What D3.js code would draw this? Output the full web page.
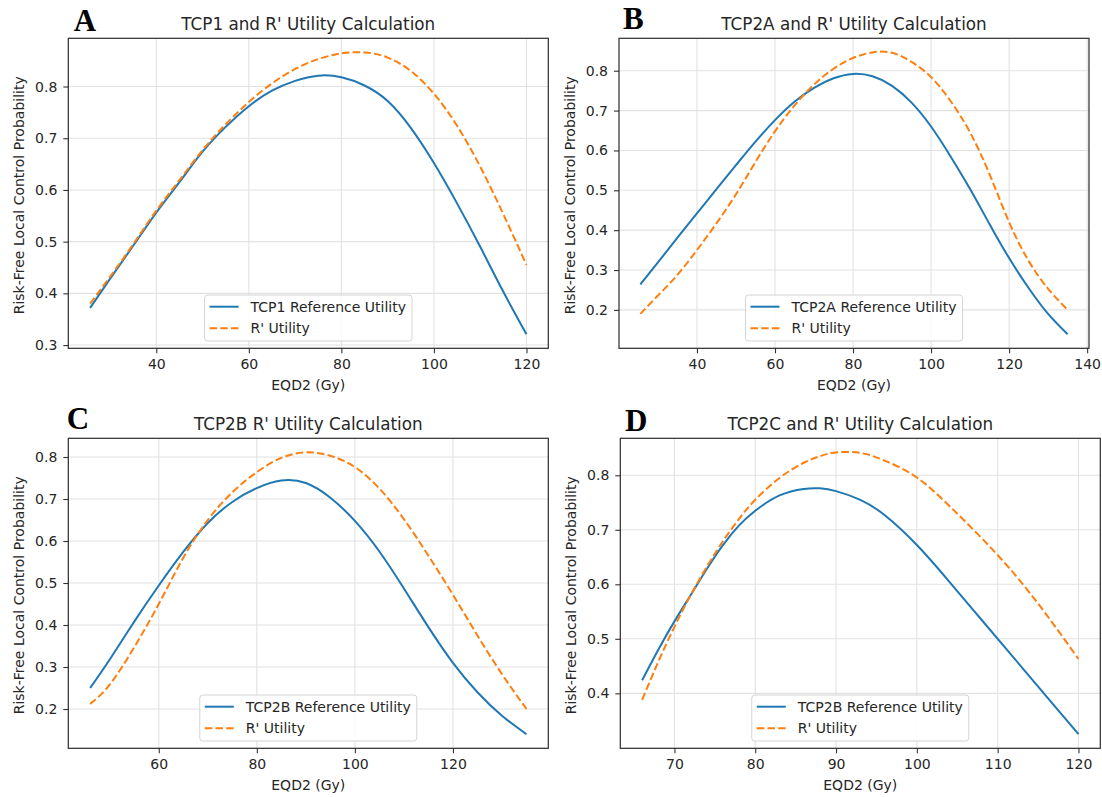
<!DOCTYPE html>
<html>
<head>
<meta charset="utf-8">
<script src="https://cdn.jsdelivr.net/npm/d3@7"></script>
<style>
  body { margin: 0; background: #fff; }
  svg { display: block; }
</style>
</head>
<body>
<div id="chart"></div>
<script>
// Data

// A: TCP1
const doseA = [25.7, 30, 35, 40, 45, 50, 55, 60, 65, 70, 75, 80, 85, 90, 95, 100, 105, 110, 115, 120];
const refA  = [0.372, 0.428, 0.492, 0.556, 0.615, 0.674, 0.722, 0.762, 0.792, 0.811, 0.821, 0.818, 0.802, 0.772, 0.72, 0.652, 0.574, 0.49, 0.403, 0.321];
const rA    = [0.38, 0.432, 0.495, 0.56, 0.619, 0.677, 0.727, 0.77, 0.806, 0.834, 0.853, 0.864, 0.866, 0.856, 0.83, 0.786, 0.724, 0.645, 0.553, 0.455];

// B: TCP2A
const doseB = [25.5, 30, 35, 40, 45, 50, 55, 60, 65, 70, 75, 80, 85, 90, 95, 100, 105, 110, 115, 120, 125, 130, 135];
const refB  = [0.264, 0.319, 0.381, 0.442, 0.503, 0.563, 0.622, 0.676, 0.722, 0.757, 0.781, 0.792, 0.786, 0.762, 0.72, 0.66, 0.585, 0.503, 0.415, 0.33, 0.255, 0.19, 0.139];
const rB    = [0.19, 0.236, 0.288, 0.35, 0.417, 0.49, 0.571, 0.648, 0.713, 0.765, 0.805, 0.832, 0.846, 0.845, 0.822, 0.784, 0.724, 0.645, 0.54, 0.42, 0.323, 0.253, 0.2];

// C: TCP2B
const doseC = [46, 50, 55, 60, 65, 70, 75, 80, 85, 90, 95, 100, 105, 110, 115, 120, 125, 130, 135];
const refC  = [0.25, 0.318, 0.408, 0.494, 0.574, 0.643, 0.693, 0.726, 0.744, 0.738, 0.703, 0.648, 0.575, 0.487, 0.395, 0.31, 0.24, 0.184, 0.14];
const rC    = [0.212, 0.258, 0.347, 0.45, 0.56, 0.65, 0.716, 0.764, 0.798, 0.811, 0.803, 0.776, 0.725, 0.652, 0.565, 0.472, 0.375, 0.283, 0.2];

// D: TCP2C
const doseD = [66, 68, 70, 72, 74, 76, 78, 80, 83, 86, 88, 90, 93, 96, 100, 104, 108, 112, 116, 120];
const refD  = [0.424, 0.48, 0.532, 0.58, 0.628, 0.672, 0.708, 0.735, 0.763, 0.775, 0.776, 0.771, 0.755, 0.727, 0.672, 0.605, 0.535, 0.465, 0.395, 0.325];
const rD    = [0.388, 0.458, 0.522, 0.58, 0.632, 0.679, 0.72, 0.755, 0.795, 0.823, 0.835, 0.842, 0.841, 0.827, 0.796, 0.744, 0.685, 0.62, 0.545, 0.463];

// tick values
const xTicksA = [40, 60, 80, 100, 120];
const yTicksA = [0.3, 0.4, 0.5, 0.6, 0.7, 0.8];
const xTicksB = [40, 60, 80, 100, 120, 140];
const yTicksB = [0.2, 0.3, 0.4, 0.5, 0.6, 0.7, 0.8];
const xTicksC = [60, 80, 100, 120];
const yTicksC = [0.2, 0.3, 0.4, 0.5, 0.6, 0.7, 0.8];
const xTicksD = [70, 80, 90, 100, 110, 120];
const yTicksD = [0.4, 0.5, 0.6, 0.7, 0.8];

// text
const letters = ["A", "B", "C", "D"];
const titles = [
    "TCP1 and R' Utility Calculation",
    "TCP2A and R' Utility Calculation",
    "TCP2B R' Utility Calculation",
    "TCP2C and R' Utility Calculation"
];
const refLabels = ["TCP1 Reference Utility", "TCP2A Reference Utility", "TCP2B Reference Utility", "TCP2B Reference Utility"];
const rLabel = "R' Utility";
const xLabel = "EQD2 (Gy)";
const yLabel = "Risk-Free Local Control Probability";

const width = 1102;
const height = 797;
const font = "'DejaVu Sans', Verdana, sans-serif";
const blue = "#1f77b4";
const orange = "#ff7f0e";
const ink = "#262626";

const svg = d3.select("#chart")
    .append("svg")
    .attr("width", width)
    .attr("height", height);

svg.append("rect").attr("width", width).attr("height", height).attr("fill", "#fff");

const drawPanel = (p) => {
    const g = svg.append("g")
        .attr("transform", `translate(${p.left}, ${p.top})`);

    // matplotlib style 5% margins
    const [x0, x1] = d3.extent(p.dose);
    const xPad = (x1 - x0) * 0.05;
    const xScale = d3.scaleLinear()
        .domain([x0 - xPad, x1 + xPad])
        .range([0, p.w]);

    const [y0, y1] = d3.extent(p.ref.concat(p.r));
    const yPad = (y1 - y0) * 0.05;
    const yScale = d3.scaleLinear()
        .domain([y0 - yPad, y1 + yPad])
        .range([p.h, 0]);

    // grid first
    g.append("g")
        .selectAll("line")
        .data(p.xTicks)
        .join("line")
        .attr("x1", d => xScale(d))
        .attr("x2", d => xScale(d))
        .attr("y1", 0)
        .attr("y2", p.h)
        .attr("stroke", "#e2e2e2")
        .attr("stroke-width", 1.1);

    g.append("g")
        .selectAll("line")
        .data(p.yTicks)
        .join("line")
        .attr("x1", 0)
        .attr("x2", p.w)
        .attr("y1", d => yScale(d))
        .attr("y2", d => yScale(d))
        .attr("stroke", "#e2e2e2")
        .attr("stroke-width", 1.1);

    const lineGenerator = d3.line()
        .x((d, i) => xScale(p.dose[i]))
        .y(d => yScale(d))
        .curve(d3.curveNatural);

    g.append("path")
        .attr("d", lineGenerator(p.ref))
        .attr("fill", "none")
        .attr("stroke", blue)
        .attr("stroke-width", 2);

    g.append("path")
        .attr("d", lineGenerator(p.r))
        .attr("fill", "none")
        .attr("stroke", orange)
        .attr("stroke-width", 2)
        .attr("stroke-dasharray", "7.5 3.2");

    // axes
    const bottomAxis = d3.axisBottom(xScale)
        .tickValues(p.xTicks)
        .tickSize(5)
        .tickPadding(6)
        .tickFormat(d3.format("d"));

    const leftAxis = d3.axisLeft(yScale)
        .tickValues(p.yTicks)
        .tickSize(5)
        .tickPadding(6)
        .tickFormat(d3.format(".1f"));

    const xAxis = g.append("g")
        .attr("transform", `translate(0, ${p.h})`)
        .call(bottomAxis);
    const yAxis = g.append("g").call(leftAxis);

    [xAxis, yAxis].forEach(a => {
        a.select(".domain").remove();
        a.selectAll("line").attr("stroke", "#333").attr("stroke-width", 1.1);
        a.selectAll("text")
            .attr("fill", ink)
            .style("font-family", font)
            .style("font-size", "14px");
    });

    // frame
    g.append("rect")
        .attr("width", p.w)
        .attr("height", p.h)
        .attr("fill", "none")
        .attr("stroke", "#2b2b2b")
        .attr("stroke-width", 1.2);

    // title + labels
    g.append("text")
        .attr("x", p.w / 2)
        .attr("y", -8.5)
        .attr("text-anchor", "middle")
        .attr("fill", ink)
        .style("font-family", font)
        .style("font-size", "16.8px")
        .text(p.title);

    g.append("text")
        .attr("x", p.w / 2)
        .attr("y", p.h + 41.5)
        .attr("text-anchor", "middle")
        .attr("fill", ink)
        .style("font-family", font)
        .style("font-size", "14px")
        .text(xLabel);

    g.append("text")
        .attr("transform", `translate(${-49}, ${p.h / 2 + 2}) rotate(-90)`)
        .attr("text-anchor", "middle")
        .attr("dy", "0.35em")
        .attr("fill", ink)
        .style("font-family", font)
        .style("font-size", "14px")
        .text(yLabel);

    g.append("text")
        .attr("x", p.letterX)
        .attr("y", p.letterY)
        .attr("fill", "#000")
        .style("font-family", "'Liberation Serif', 'Times New Roman', serif")
        .style("font-weight", "bold")
        .style("font-size", "31px")
        .text(p.letter);

    // legend, lower center
    const legend = g.append("g");
    const box = legend.append("rect")
        .attr("rx", 3)
        .attr("fill", "#fff")
        .attr("fill-opacity", 0.85)
        .attr("stroke", "#d4d4d4")
        .attr("stroke-width", 1);

    const entries = [
        { label: p.refLabel, color: blue, dash: null },
        { label: rLabel, color: orange, dash: "7.5 3.2" }
    ];

    let maxText = 0;
    entries.forEach((e, i) => {
        const cy = 11.7 + i * 21.6;
        legend.append("line")
            .attr("x1", 5).attr("x2", 34)
            .attr("y1", cy).attr("y2", cy)
            .attr("stroke", e.color)
            .attr("stroke-width", 2)
            .attr("stroke-dasharray", e.dash);
        const t = legend.append("text")
            .attr("x", 46)
            .attr("y", cy)
            .attr("dy", "0.36em")
            .attr("fill", ink)
            .style("font-family", font)
            .style("font-size", "14px")
            .text(e.label);
        maxText = Math.max(maxText, t.node().getComputedTextLength());
    });

    const legendW = 46 + maxText + 6;
    const legendH = 46;
    box.attr("width", legendW).attr("height", legendH);
    legend.attr("transform", `translate(${(p.w - legendW) / 2}, ${p.h - 7.3 - legendH})`);
};

const panels = [
    { dose: doseA, ref: refA, r: rA, xTicks: xTicksA, yTicks: yTicksA, left: 68.3, top: 38.3, w: 480, h: 310, letterX: 5.5, letterY: -7.8 },
    { dose: doseB, ref: refB, r: rB, xTicks: xTicksB, yTicks: yTicksB, left: 619, top: 38.3, w: 470, h: 310, letterX: 4, letterY: -9.8 },
    { dose: doseC, ref: refC, r: rC, xTicks: xTicksC, yTicks: yTicksC, left: 68.3, top: 438.3, w: 480, h: 310, letterX: -1.5, letterY: -9 },
    { dose: doseD, ref: refD, r: rD, xTicks: xTicksD, yTicks: yTicksD, left: 620.3, top: 438.3, w: 480, h: 310, letterX: 4.7, letterY: -7.3 }
];

panels.forEach((p, i) => {
    p.letter = letters[i];
    p.title = titles[i];
    p.refLabel = refLabels[i];
    drawPanel(p);
});
</script>
</body>
</html>
